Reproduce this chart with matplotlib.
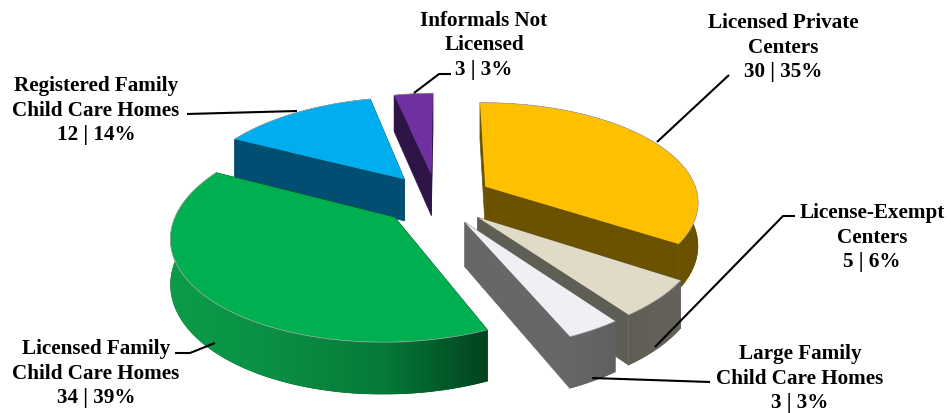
import numpy as np
import matplotlib
matplotlib.use("Agg")
import matplotlib.pyplot as plt
from matplotlib.colors import LinearSegmentedColormap
from matplotlib.patches import Polygon

# 数据
categories = ["Licensed Private\nCenters", "License-Exempt\nCenters", "Large Family\nChild Care Homes",
              "Licensed Family\nChild Care Homes", "Registered Family\nChild Care Homes", "Informals Not\nLicensed"]
counts = [30, 5, 3, 34, 12, 3]
percents = [35, 6, 3, 39, 14, 3]

top_colors = ["#FFC000", "#E0DAC6", "#EEF0F4", "#00B050", "#00AEEF", "#7030A0"]
side_ramps = [
    ["#6B5200", "#6B5200"],
    ["#5F5E55", "#65625A"],
    ["#676767", "#606062"],
    ["#0C9C49", "#0A8F44", "#067A39", "#01441E"],
    ["#004F73", "#004C6C"],
    ["#2E1447", "#2E1447"],
]
cut_colors = ["#6B5200", "#5F5E55", "#676767", "#01441E", "#004F73", "#2E1447"]

label_x = [783, 872, 800, 96, 96, 484]
label_y = [48, 238, 379, 374, 111, 45]
leaders = [
    [(657, 143), (729, 76)],
    [(655, 348), (783, 217), (795, 217)],
    [(592, 379), (710, 383)],
    [(215, 344), (190, 354), (175, 354)],
    [(297, 112), (187, 115)],
    [(414, 94), (439, 75), (451, 75)],
]

# 饼图的投影参数（画布按像素坐标）
cx, cy = 437, 200
radius = 214
squash = 100 / 214
persp = 0.15
shear = 4
depth = 43
explode = 0.26
start_angle = 91
draw_order = [5, 4, 3, 0, 1, 2]


def project(u, v, z=0.0):
    f = 1 / (1 + persp * v)
    return cx + radius * u * f + shear * v, cy - radius * squash * v * f + z * f


fig = plt.figure(figsize=(9.5, 4.14), dpi=100)
ax = fig.add_axes([0, 0, 1, 1])

# 每块扇形的起止角度，顺时针排列
sweeps = 360 * np.array(counts) / sum(counts)
ends = start_angle - np.cumsum(sweeps)
starts = ends + sweeps

for rank, i in enumerate(draw_order):
    t = np.radians(np.linspace(starts[i], ends[i], 120))
    mid = np.radians((starts[i] + ends[i]) / 2)
    ou, ov = explode * np.cos(mid), explode * np.sin(mid)
    u, v = ou + np.cos(t), ov + np.sin(t)
    x0, y0 = project(u, v)
    x1, y1 = project(u, v, depth)
    ax0, ay0 = project(ou, ov)
    ax1, ay1 = project(ou, ov, depth)
    z = 1 + rank * 3

    # 两个切面，先画，背面的会被外侧弧面盖住
    ax.fill([ax0, x0[0], x1[0], ax1], [ay0, y0[0], y1[0], ay1], color=cut_colors[i], lw=0.5, zorder=z)
    ax.fill([ax0, x0[-1], x1[-1], ax1], [ay0, y0[-1], y1[-1], ay1], color=cut_colors[i], lw=0.5, zorder=z)

    # 外侧弧面，用横向渐变填充后按轮廓裁剪
    outline = np.c_[np.r_[x0, x1[::-1]], np.r_[y0, y1[::-1]]]
    patch = Polygon(outline, closed=True, color=side_ramps[i][-1], lw=0, zorder=z + 1)
    ax.add_patch(patch)
    cmap = LinearSegmentedColormap.from_list("side%d" % i, side_ramps[i])
    img = ax.imshow(np.linspace(0, 1, 256).reshape(1, -1), cmap=cmap, aspect="auto", zorder=z + 1,
                    extent=[outline[:, 0].min(), outline[:, 0].max(), outline[:, 1].max(), outline[:, 1].min()])
    img.set_clip_path(patch)

    # 顶面
    ax.fill(np.r_[ax0, x0], np.r_[ay0, y0], color=top_colors[i], lw=0, zorder=z + 2)
    ax.plot(x0, y0, color="#a8a8a8", lw=0.5, zorder=z + 2)

for path in leaders:
    xs, ys = zip(*path)
    ax.plot(xs, ys, color="black", lw=1.5, zorder=40, solid_capstyle="butt")

for i in range(len(categories)):
    text = categories[i] + "\n" + str(counts[i]) + " | " + str(percents[i]) + "%"
    ax.text(label_x[i], label_y[i], text, ha="center", va="center", family="Liberation Serif",
            fontweight="bold", fontsize=15.2, linespacing=1.3, color="black", zorder=50)

ax.set_xlim(0, 950)
ax.set_ylim(414, 0)
ax.axis("off")

fig.savefig("out.png", dpi=100, facecolor="white")
